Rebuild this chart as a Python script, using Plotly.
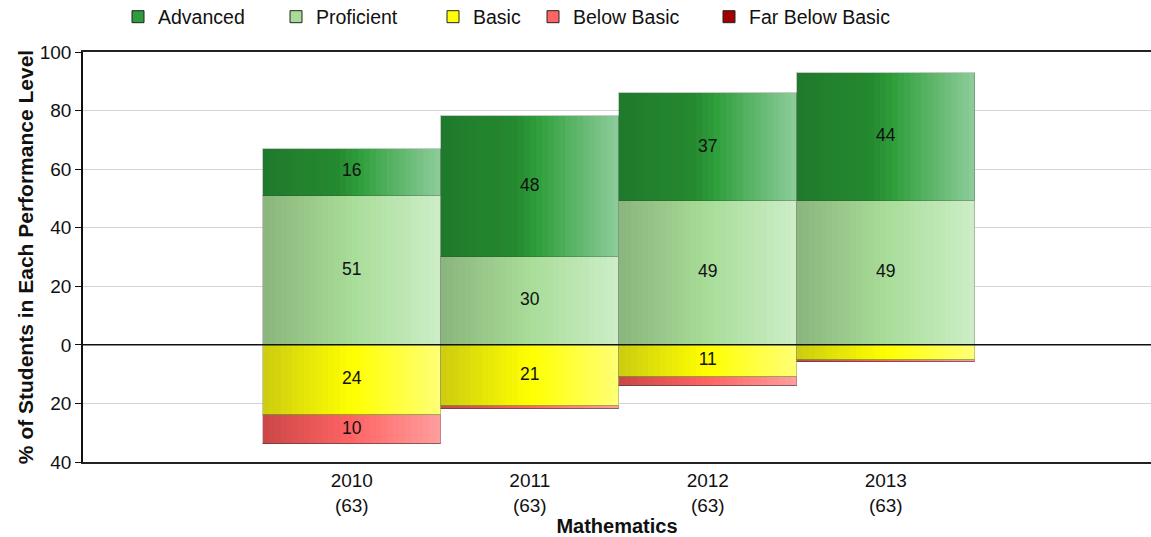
import plotly.graph_objects as go

# ---------------- data ----------------
years = ["2010", "2011", "2012", "2013"]
counts = ["63", "63", "63", "63"]
advanced = [16, 48, 37, 44]
proficient = [51, 30, 49, 49]
basic = [24, 21, 11, 5]
below_basic = [10, 1, 3, 1]
far_below_basic = [0, 0, 0, 0]

series_names = ["Advanced", "Proficient", "Basic", "Below Basic", "Far Below Basic"]
legend_colors = ["#2e9b3c", "#a8dc98", "#ffff00", "#ff6464", "#a00000"]
# gradient stops (position, colour) for each series, left -> right across a bar
gradients = {
    "Advanced": [(0.0, "#1f7a2c"), (0.42, "#25892f"), (0.55, "#30a03d"), (1.0, "#8fcd9c")],
    "Proficient": [(0.0, "#8ab57c"), (0.5, "#a8dc98"), (1.0, "#cdeec8")],
    "Basic": [(0.0, "#cccc10"), (0.5, "#ffff00"), (1.0, "#ffff78")],
    "Below Basic": [(0.0, "#cc4646"), (0.5, "#ff6464"), (1.0, "#ff9e9e")],
    "Far Below Basic": [(0.0, "#800000"), (0.5, "#a00000"), (1.0, "#c04040")],
}

FONT = "Liberation Sans, Arial, sans-serif"
FS_TICK = 19
FS_LEG = 19.5
FS_TITLE = 20
FS_YTITLE = 21
FS_LABEL = 17.5
N = 30  # slices per bar to imitate the horizontal gradient

x = list(range(len(years)))


def hex2rgb(h):
    h = h.lstrip("#")
    return [int(h[i:i + 2], 16) for i in (0, 2, 4)]


def grad_color(stops, t):
    for (p0, c0), (p1, c1) in zip(stops[:-1], stops[1:]):
        if p0 <= t <= p1:
            f = (t - p0) / (p1 - p0) if p1 > p0 else 0
            a, b = hex2rgb(c0), hex2rgb(c1)
            r = [round(a[i] + (b[i] - a[i]) * f) for i in range(3)]
            return "rgb(%d,%d,%d)" % tuple(r)
    return stops[-1][1]


# segment heights and bases (positive stack upward, negative downward)
segments = []
segments.append(("Proficient", proficient, [0] * 4))
segments.append(("Advanced", advanced, proficient))
segments.append(("Basic", [-v for v in basic], [0] * 4))
segments.append(("Below Basic", [-v for v in below_basic], [-v for v in basic]))
segments.append(("Far Below Basic", [-v for v in far_below_basic],
                 [-(a + b) for a, b in zip(basic, below_basic)]))

fig = go.Figure()

for name, vals, base in segments:
    stops = gradients[name]
    for k in range(N):
        t = (k + 0.5) / N
        fig.add_trace(go.Bar(
            x=x, y=vals, base=base,
            width=1.0 / N + 0.002, offset=-0.5 + k / N,
            marker=dict(color=grad_color(stops, t), line=dict(width=0)),
            showlegend=False, hoverinfo="skip",
        ))
    # soft outline for a slightly bevelled look
    fig.add_trace(go.Bar(
        x=x, y=vals, base=base, width=1.0, offset=-0.5,
        marker=dict(color="rgba(0,0,0,0)",
                    line=dict(width=1, color="rgba(60,60,60,0.28)")),
        showlegend=False, hoverinfo="skip",
    ))

# value labels
lx, ly, lt = [], [], []
for name, vals, base in segments:
    for i in range(len(x)):
        if abs(vals[i]) >= 8:
            lx.append(x[i])
            ly.append(base[i] + vals[i] / 2)
            lt.append(str(abs(vals[i])))
fig.add_trace(go.Scatter(x=lx, y=ly, text=lt, mode="text",
                         textfont=dict(family=FONT, size=FS_LABEL, color="#111"),
                         showlegend=False, hoverinfo="skip"))

# legend entries, each in its own legend so they can be placed freely
legend_px = [136, 294, 451, 551, 727]
for j, (nm, col) in enumerate(zip(series_names, legend_colors)):
    lname = "legend" if j == 0 else "legend%d" % (j + 1)
    fig.add_trace(go.Bar(x=[None], y=[None], name=nm,
                         marker=dict(color=col, line=dict(color="#222", width=1)),
                         legend=lname))

plot_left, plot_right = 83, 1151
legends = {}
for j, px in enumerate(legend_px):
    lname = "legend" if j == 0 else "legend%d" % (j + 1)
    legends[lname] = dict(
        x=(px - 18 - plot_left) / (plot_right - plot_left), xanchor="left",
        y=1 + (52 - 17) / 410, yanchor="middle",
        orientation="h", bgcolor="rgba(0,0,0,0)", borderwidth=0,
        font=dict(family=FONT, size=FS_LEG, color="#111"),
    )

ticktext = ["%s<br>(%s)" % (y, c) for y, c in zip(years, counts)]
yvals = [100, 80, 60, 40, 20, 0, -20, -40]

fig.update_layout(
    width=1151, height=537,
    margin=dict(l=83, r=0, t=52, b=75, autoexpand=False),
    paper_bgcolor="white", plot_bgcolor="white",
    barmode="overlay", bargap=0,
    font=dict(family=FONT, size=FS_TICK, color="#111"),
    xaxis=dict(
        range=[-1.51, 4.49], tickmode="array", tickvals=x, ticktext=ticktext,
        showgrid=False, zeroline=False, showline=True, mirror=True,
        linecolor="#222", linewidth=2, ticks="",
        tickfont=dict(family=FONT, size=FS_TICK, color="#111"),
        title=dict(text="<b>Mathematics</b>", standoff=4,
                   font=dict(family=FONT, size=FS_TITLE, color="#111")),
    ),
    yaxis=dict(
        range=[-40, 100], tickmode="array", tickvals=yvals,
        ticktext=[str(abs(v)) for v in yvals],
        showgrid=True, gridcolor="#d4d4d4", gridwidth=1,
        zeroline=False, showline=True, linecolor="#111", linewidth=1.5,
        ticks="outside", ticklen=6, tickcolor="#111",
        tickfont=dict(family=FONT, size=FS_TICK, color="#111"),
        title=dict(text="<b>% of Students in Each Performance Level</b>", standoff=0,
                   font=dict(family=FONT, size=FS_YTITLE, color="#111")),
    ),
    shapes=[dict(type="line", xref="paper", yref="y", x0=0, x1=1, y0=0, y1=0,
                 line=dict(color="#111", width=1.5), layer="above")],
    **legends,
)

fig.write_html("out.html")
